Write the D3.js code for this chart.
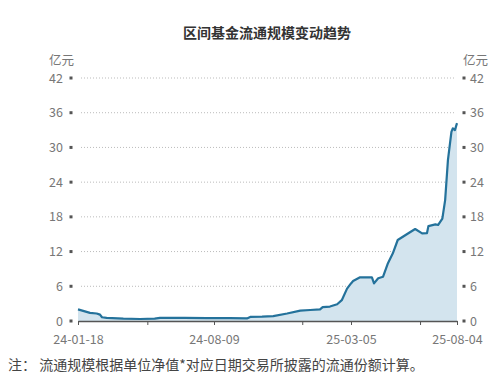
<!DOCTYPE html>
<html>
<head>
<meta charset="utf-8">
<script src="https://cdn.jsdelivr.net/npm/d3@7"></script>
<style>
  body { margin: 0; background: #fff; }
  text { font-family: "Noto Sans CJK SC", "Noto Sans", sans-serif; }
</style>
</head>
<body>
<svg id="chart" width="500" height="386"></svg>
<script>
var dates = ["2024-01-18","2024-01-27","2024-02-05","2024-02-15","2024-02-20","2024-02-23","2024-03-01",
  "2024-03-26","2024-04-20","2024-05-12","2024-05-20","2024-06-26","2024-07-29","2024-08-09",
  "2024-09-02","2024-09-28","2024-10-03","2024-10-21","2024-11-07","2024-11-28","2024-12-18",
  "2025-01-02","2025-01-17","2025-01-21","2025-02-01","2025-02-12","2025-02-19","2025-02-27",
  "2025-03-05","2025-03-08","2025-03-18","2025-04-04","2025-04-07","2025-04-13","2025-04-20",
  "2025-04-27","2025-05-04","2025-05-11","2025-05-24","2025-06-05","2025-06-15","2025-06-22",
  "2025-06-24","2025-07-04","2025-07-08","2025-07-14","2025-07-18","2025-07-22","2025-07-27",
  "2025-07-29","2025-08-01","2025-08-04"];
var values = [2.0, 1.7, 1.4, 1.3, 1.1, 0.65, 0.55,
  0.4, 0.35, 0.4, 0.55, 0.55, 0.5, 0.5,
  0.5, 0.45, 0.7, 0.75, 0.85, 1.3, 1.8,
  1.9, 2.0, 2.4, 2.5, 2.9, 3.6, 5.6,
  6.5, 6.9, 7.55, 7.55, 6.5, 7.4, 7.65,
  10.0, 11.7, 14.0, 15.0, 15.9, 15.15, 15.2,
  16.4, 16.7, 16.6, 17.7, 20.9, 27.8, 32.7,
  33.3, 33.0, 34.2];
var labelDates = ["2024-01-18", "2024-08-09", "2025-03-05", "2025-08-04"];
var minorDates = ["2024-05-01", "2024-12-21", "2025-06-12"];
var yTicks = [0, 6, 12, 18, 24, 30, 36, 42];

var parse = d3.timeParse("%Y-%m-%d"), iso = d3.timeFormat("%Y-%m-%d"), fmt = d3.timeFormat("%y-%m-%d");
var data = dates.map(function(d, i) { return { date: parse(d), value: values[i] }; });

var svg = d3.select("#chart");
var plotL = 78, plotR = 457, plotT = 78, plotB = 321;

// category-like axis: labelled dates are evenly spaced
var x = d3.scaleTime()
  .domain(labelDates.map(parse))
  .range([plotL, 214, 351, plotR]);
var y = d3.scaleLinear().domain([0, 42]).range([plotB, plotT]);

svg.append("text")
  .attr("x", 267).attr("y", 38)
  .attr("text-anchor", "middle")
  .attr("font-size", 14).attr("font-weight", "bold").attr("fill", "#333")
  .text("区间基金流通规模变动趋势");

// grid
svg.append("g").selectAll("line").data(yTicks.slice(1)).enter().append("line")
  .attr("x1", plotL + 3).attr("x2", plotR - 2)
  .attr("y1", function(d) { return y(d); }).attr("y2", function(d) { return y(d); })
  .attr("stroke", "#bbb").attr("stroke-width", 1).attr("stroke-dasharray", "1,2");

// area + line
svg.append("path").datum(data)
  .attr("fill", "#d3e4ee")
  .attr("d", d3.area().x(function(d) { return x(d.date); }).y0(y(0)).y1(function(d) { return y(d.value); }));
svg.append("path").datum(data)
  .attr("fill", "none").attr("stroke", "#24729b").attr("stroke-width", 2.2)
  .attr("stroke-linejoin", "round")
  .attr("d", d3.line().x(function(d) { return x(d.date); }).y(function(d) { return y(d.value); }));

// y labels both sides
[{ side: "left", tx: 71, lx: 63, anchor: "end" }, { side: "right", tx: 464, lx: 470, anchor: "start" }].forEach(function(s) {
  var g = svg.append("g");
  g.selectAll("rect").data(yTicks).enter().append("rect")
    .attr("x", s.tx - 1.5).attr("y", function(d) { return y(d) - 1.5; })
    .attr("width", 3).attr("height", 3).attr("fill", "#555");
  g.selectAll("text").data(yTicks).enter().append("text")
    .attr("x", s.lx).attr("y", function(d) { return y(d) + 4.5; })
    .attr("text-anchor", s.anchor).attr("font-size", 12.5).attr("fill", "#777")
    .text(function(d) { return d; });
  g.append("text")
    .attr("x", s.side === "left" ? 49 : 463).attr("y", 65)
    .attr("font-size", 12.5).attr("fill", "#777").text("亿元");
});

// x axis
var xAxis = svg.append("g").attr("transform", "translate(0," + plotB + ")")
  .call(d3.axisBottom(x)
    .tickValues(labelDates.concat(minorDates).map(parse))
    .tickSize(4).tickSizeOuter(0)
    .tickFormat(function(d) { return labelDates.indexOf(iso(d)) >= 0 ? fmt(d) : ""; }));
xAxis.select(".domain").attr("stroke", "#555").attr("stroke-width", 1.5);
xAxis.selectAll(".tick line").attr("stroke", "#555");
xAxis.selectAll(".tick text").attr("font-size", 12.5).attr("fill", "#777").attr("dy", "1.25em")
  .attr("font-family", "'Noto Sans CJK SC', sans-serif");

svg.append("text")
  .attr("x", 8).attr("y", 370)
  .attr("font-size", 14).attr("fill", "#444")
  .text("注：  流通规模根据单位净值*对应日期交易所披露的流通份额计算。");
</script>
</body>
</html>
